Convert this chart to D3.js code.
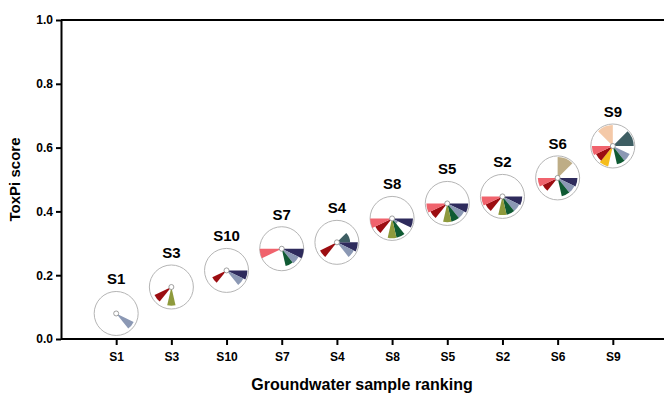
<!DOCTYPE html>
<html>
<head>
<meta charset="utf-8">
<script src="https://cdn.jsdelivr.net/npm/d3@7"></script>
<style>
  body { margin: 0; background: #fff; }
  svg { display: block; font-family: "Liberation Sans", Arial, sans-serif; }
  .axis text { font-weight: bold; font-size: 12px; fill: #000; }
  .axis path, .axis line { stroke: #000; stroke-width: 2px; }
</style>
</head>
<body>
<div id="app"></div>
<script>
// samples in ranking order with ToxPi score
const samples = ["S1", "S3", "S10", "S7", "S4", "S8", "S5", "S2", "S6", "S9"];
const scores = [0.08, 0.163, 0.215, 0.283, 0.303, 0.378, 0.425, 0.447, 0.505, 0.605];
const yTicks = [0, 0.2, 0.4, 0.6, 0.8, 1.0];

// slices clockwise from 3 o'clock, with weights (relative angular width)
const sliceNames = ["navy", "greyblue", "green", "olive", "yellow", "darkred", "pink", "blank", "peach", "tan", "slate"];
const sliceWeights = [1, 1, 1, 1, 1, 1, 1, 1.75, 1.75, 1.75, 1.75];
const sliceColors = ["#2e2b5c", "#8b98b4", "#0f5a33", "#8e9a3c", "#f5bd1c", "#9c0d11", "#f0636d", "#dddddd", "#f4c9a8", "#bead86", "#3e5e63"];

// slice scores per sample (fraction of radius), same order as sliceNames
const S1 = [0, 0.88, 0, 0, 0, 0, 0, 0, 0, 0, 0];
const S3 = [0, 0, 0, 0.85, 0, 0.85, 0, 0, 0, 0, 0];
const S10 = [0.95, 0.85, 0, 0, 0, 0.72, 0, 0, 0, 0, 0];
const S7 = [1.0, 0.85, 0.8, 0, 0, 0, 1.0, 0, 0, 0, 0];
const S4 = [0.95, 0.85, 0, 0, 0, 0.85, 0, 0, 0, 0, 0.6];
const S8 = [0.95, 0.3, 0.9, 0.9, 0, 0.85, 1.0, 0, 0, 0, 0];
const S5 = [0.95, 0.85, 0.85, 0.85, 0, 0.85, 0.95, 0, 0, 0, 0];
const S2 = [0.9, 0.85, 0.85, 0.85, 0, 0.85, 0.95, 0, 0, 0, 0];
const S6 = [0.9, 0.85, 0.85, 0, 0, 0.75, 0.9, 0, 0, 0.95, 0];
const S9 = [0, 0.85, 0.85, 0, 0.95, 0.85, 0.95, 0, 0.95, 0, 0.95];
const sliceScores = [S1, S3, S10, S7, S4, S8, S5, S2, S6, S9];

const width = 664;
const height = 393;
const margin = { top: 20, left: 61, bottom: 54 };
const R = 22;

const svg = d3.select("#app").append("svg")
  .attr("width", width)
  .attr("height", height);

const x = d3.scalePoint()
  .domain(samples)
  .range([margin.left, 668])
  .padding(1);

const y = d3.scaleLinear()
  .domain([0, 1])
  .range([height - margin.bottom, margin.top]);

// top border line
svg.append("line")
  .attr("x1", margin.left).attr("x2", width)
  .attr("y1", y(1)).attr("y2", y(1))
  .attr("stroke", "#000").attr("stroke-width", 2);

svg.append("g")
  .attr("class", "axis")
  .attr("transform", `translate(${margin.left},0)`)
  .call(d3.axisLeft(y).tickValues(yTicks).tickFormat(d3.format(".1f")).tickSize(5).tickSizeOuter(0).tickPadding(3));

const xAxis = svg.append("g")
  .attr("class", "axis")
  .attr("transform", `translate(0,${y(0)})`)
  .call(d3.axisBottom(x).tickSize(6).tickSizeOuter(0).tickPadding(7));
xAxis.select(".domain").attr("d", `M${margin.left},0H${width}`);

// axis titles
svg.append("text")
  .attr("transform", `translate(20,${(y(0) + y(1)) / 2}) rotate(-90)`)
  .attr("text-anchor", "middle")
  .attr("font-weight", "bold")
  .attr("font-size", 15)
  .text("ToxPi score");

svg.append("text")
  .attr("x", 362)
  .attr("y", 390)
  .attr("text-anchor", "middle")
  .attr("font-weight", "bold")
  .attr("font-size", 16)
  .text("Groundwater sample ranking");

// slice angles
const totalW = d3.sum(sliceWeights);
const angles = [];
let a0 = Math.PI / 2;
sliceWeights.forEach((w) => {
  const a1 = a0 + (w / totalW) * 2 * Math.PI;
  angles.push([a0, a1]);
  a0 = a1;
});

const arc = d3.arc().innerRadius(0);

const pies = svg.selectAll(".pie")
  .data(samples)
  .enter()
  .append("g")
  .attr("class", "pie")
  .attr("transform", (d, i) => `translate(${x(d)},${y(scores[i])})`);

pies.append("circle")
  .attr("r", R)
  .attr("fill", "#fff")
  .attr("stroke", "#b5b5b5")
  .attr("stroke-width", 1);

pies.each(function (d, i) {
  const g = d3.select(this);
  sliceScores[i].forEach((v, j) => {
    if (v <= 0) return;
    g.append("path")
      .attr("d", arc({ outerRadius: v * R, startAngle: angles[j][0], endAngle: angles[j][1] }))
      .attr("fill", sliceColors[j]);
  });
});

pies.append("circle")
  .attr("r", 2.5)
  .attr("fill", "#fff")
  .attr("stroke", "#888")
  .attr("stroke-width", 0.8);

pies.append("text")
  .attr("y", -R - 7)
  .attr("text-anchor", "middle")
  .attr("font-weight", "bold")
  .attr("font-size", 15)
  .text((d) => d);
</script>
</body>
</html>
